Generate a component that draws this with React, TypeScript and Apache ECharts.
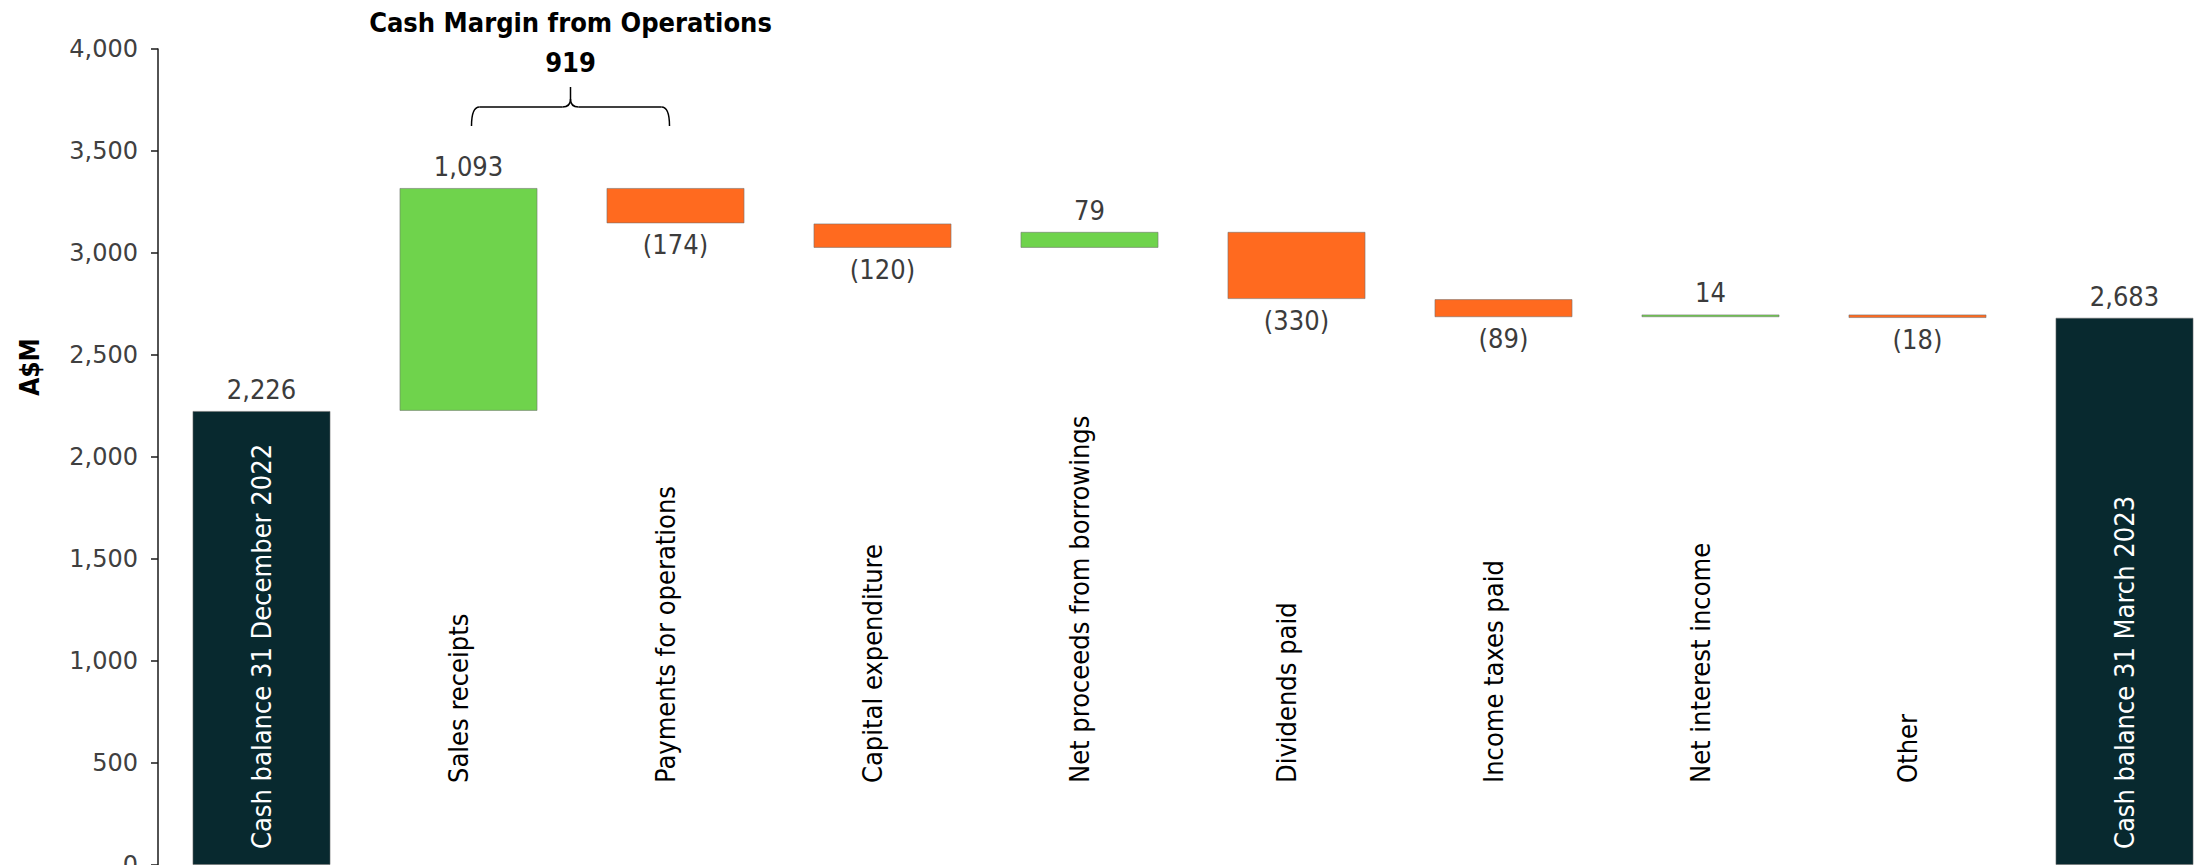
import React, { useEffect, useRef } from "react";
import * as echarts from "echarts";

const categories = [
  "Cash balance 31 December 2022",
  "Sales receipts",
  "Payments for operations",
  "Capital expenditure",
  "Net proceeds from borrowings",
  "Dividends paid",
  "Income taxes paid",
  "Net interest income",
  "Other",
  "Cash balance 31 March 2023",
];
const openingBalance = 2226;
const changes = [1093, -174, -120, 79, -330, -89, 14, -18];
const closingBalance = 2683;
const yTicks = [0, 500, 1000, 1500, 2000, 2500, 3000, 3500, 4000];
const bracketTitle = "Cash Margin from Operations";
const bracketValue = "919";
const yAxisName = "A$M";

const COND = "'DejaVu Sans Condensed', 'DejaVu Sans', sans-serif";
const DARK = "#08292f";
const GREEN = "#6fd34c";
const ORANGE = "#ff6a1f";

const fmt = (v: number) => String(Math.abs(v)).replace(/\B(?=(\d{3})+(?!\d))/g, ",");

export default function App() {
  const ref = useRef<HTMLDivElement>(null);
  useEffect(() => {
    if (!ref.current) return;
    const chart = echarts.init(ref.current, null, { renderer: "svg" });

    const base: number[] = [0];
    const heights: number[] = [openingBalance];
    const signed: number[] = [openingBalance];
    let running = openingBalance;
    changes.forEach((c) => {
      base.push(c >= 0 ? running : running + c);
      heights.push(Math.abs(c));
      signed.push(c);
      running += c;
    });
    base.push(0);
    heights.push(closingBalance);
    signed.push(closingBalance);
    const lastIdx = categories.length - 1;
    const isTotal = (i: number) => i === 0 || i === lastIdx;

    const visible = heights.map((h, i) => ({
      value: h,
      itemStyle: { color: isTotal(i) ? DARK : signed[i] >= 0 ? GREEN : ORANGE },
      label: { position: signed[i] >= 0 ? "top" : "bottom" },
    }));

    chart.setOption({
      animation: false,
      grid: {
        left: 158,
        width: 2070,
        top: 49,
        bottom: 0,
        containLabel: false,
        outerBoundsMode: "none",
      },
      xAxis: {
        type: "category",
        data: categories,
        z: 10,
        axisLine: { show: false },
        axisTick: { show: false },
        axisLabel: {
          inside: true,
          rotate: 90,
          interval: 0,
          margin: 16,
          formatter: (v: string, i: number) => (isTotal(i) ? `{w|${v}}` : `{b|${v}}`),
          rich: {
            w: { color: "#ffffff", fontSize: 27, fontFamily: COND },
            b: { color: "#000000", fontSize: 27, fontFamily: COND, padding: [0, 0, 20, 66] },
          },
        },
      },
      yAxis: {
        type: "value",
        min: yTicks[0],
        max: yTicks[yTicks.length - 1],
        interval: yTicks[1] - yTicks[0],
        splitLine: { show: false },
        axisLine: { show: true, lineStyle: { color: "#1a1a1a", width: 1.5 } },
        axisTick: { show: true, length: 7, lineStyle: { color: "#1a1a1a", width: 1.5 } },
        axisLabel: {
          formatter: (v: number) => fmt(v),
          fontFamily: "'DejaVu Sans', sans-serif",
          fontSize: 24,
          color: "#404040",
          margin: 20,
        },
      },
      series: [
        {
          type: "bar",
          stack: "w",
          silent: true,
          data: base,
          barWidth: "66.7%",
          itemStyle: { color: "transparent" },
        },
        {
          type: "bar",
          stack: "w",
          data: visible,
          barWidth: "66.7%",
          itemStyle: { borderColor: "rgba(110,110,110,0.55)", borderWidth: 1 },
          label: {
            show: true,
            distance: 8,
            fontFamily: COND,
            fontSize: 27,
            color: "#3c3c3c",
            formatter: (p: any) => {
              const s = signed[p.dataIndex];
              return s < 0 ? `(${fmt(s)})` : fmt(s);
            },
          },
        },
      ],
    });

    const c1 = chart.convertToPixel({ xAxisIndex: 0 }, categories[1]) as number;
    const c2 = chart.convertToPixel({ xAxisIndex: 0 }, categories[2]) as number;
    const x1 = c1 + 3;
    const x2 = c2 - 6;
    const xm = (x1 + x2) / 2;
    const yEnd = 126;
    const yLine = 107;
    const yTop = 87;
    const r = 8;
    const st = { stroke: "#000", lineWidth: 1.5, fill: "none" };

    chart.setOption({
      graphic: [
        {
          type: "text",
          x: xm,
          y: 22,
          style: {
            text: bracketTitle,
            fontFamily: COND,
            fontWeight: "bold",
            fontSize: 27,
            fill: "#000",
            align: "center",
            verticalAlign: "middle",
          },
        },
        {
          type: "text",
          x: xm,
          y: 62,
          style: {
            text: bracketValue,
            fontFamily: COND,
            fontWeight: "bold",
            fontSize: 27,
            fill: "#000",
            align: "center",
            verticalAlign: "middle",
          },
        },
        {
          type: "text",
          x: 30,
          y: 367,
          rotation: Math.PI / 2,
          style: {
            text: yAxisName,
            fontFamily: COND,
            fontWeight: "bold",
            fontSize: 26,
            fill: "#000",
            align: "center",
            verticalAlign: "middle",
          },
        },
        { type: "bezierCurve", shape: { x1: x1, y1: yEnd, x2: x1 + r, y2: yLine, cpx1: x1, cpy1: yLine }, style: st },
        { type: "line", shape: { x1: x1 + r, y1: yLine, x2: xm - r, y2: yLine }, style: st },
        { type: "bezierCurve", shape: { x1: xm - r, y1: yLine, x2: xm, y2: yLine - r, cpx1: xm, cpy1: yLine }, style: st },
        { type: "bezierCurve", shape: { x1: xm + r, y1: yLine, x2: xm, y2: yLine - r, cpx1: xm, cpy1: yLine }, style: st },
        { type: "line", shape: { x1: xm, y1: yLine - r, x2: xm, y2: yTop }, style: st },
        { type: "line", shape: { x1: xm + r, y1: yLine, x2: x2 - r, y2: yLine }, style: st },
        { type: "bezierCurve", shape: { x1: x2 - r, y1: yLine, x2: x2, y2: yEnd, cpx1: x2, cpy1: yLine }, style: st },
      ],
    });

    return () => chart.dispose();
  }, []);

  return (
    <div
      ref={ref}
      style={{ position: "absolute", left: 0, top: 0, width: 2201, height: 865, background: "#fff" }}
    />
  );
}
